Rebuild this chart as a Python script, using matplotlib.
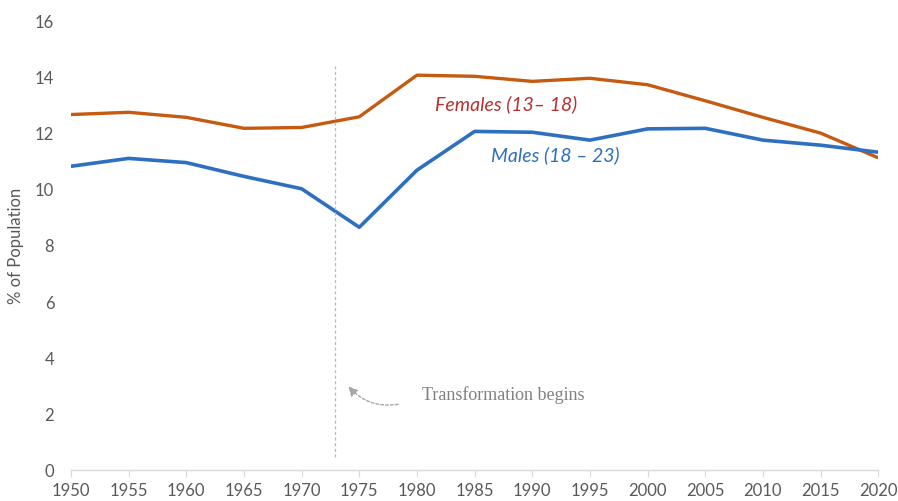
import numpy as np
import matplotlib.pyplot as plt

# population share by year
years = [1950, 1955, 1960, 1965, 1970, 1975, 1980, 1985, 1990, 1995, 2000, 2005, 2010, 2015, 2020]
females = [12.64, 12.72, 12.54, 12.15, 12.18, 12.56, 14.04, 14.0, 13.82, 13.93, 13.7, 13.13, 12.54, 11.98, 11.1]
males = [10.8, 11.08, 10.93, 10.44, 10.0, 8.63, 10.66, 12.04, 12.01, 11.73, 12.13, 12.15, 11.73, 11.55, 11.3]
y_ticks = [0, 2, 4, 6, 8, 10, 12, 14, 16]
transform_year = 1972.9

plt.rcParams['font.family'] = ['Lato', 'DejaVu Sans']
tick_col = '#595959'

fig = plt.figure(figsize=(8.98, 5.02), dpi=100)
ax = fig.add_axes([0.079, 0.062, 0.899, 0.896])

ax.plot(years, females, color='#C55A11', lw=2.4, solid_capstyle='butt')
ax.plot(years, males, color='#2E6FC0', lw=2.6, solid_capstyle='butt')

# marker for when the shift starts
ax.plot([transform_year, transform_year], [0.45, 14.35], color='#A3BAF0',
        lw=0.9, ls=(0, (2.5, 2)))

ax.text(1987.7, 13.05, 'Females (13\u2013 18)', color='#B8312F', style='italic',
        fontsize=14, ha='center', va='center')
ax.text(1992.0, 11.22, 'Males (18 \u2013 23)', color='#2E6FC0', style='italic',
        fontsize=14, ha='center', va='center')

ax.text(1980.4, 2.69, 'Transformation begins', color='#808080',
        family=['Liberation Serif', 'DejaVu Serif'], fontsize=13,
        ha='left', va='center')
ax.annotate('', xy=(1973.9, 3.05), xytext=(1978.6, 2.35),
            arrowprops=dict(arrowstyle='-|>', color='#A6A6A6', lw=1.0,
                            ls=(0, (2, 1.5)), connectionstyle='arc3,rad=-0.3',
                            mutation_scale=14))

ax.set_xlim(1950, 2020)
ax.set_ylim(0, 16)
ax.set_xticks(years)
ax.set_yticks(y_ticks)
ax.set_ylabel('% of Population', color=tick_col, fontsize=12, labelpad=8)

for side in ['top', 'right', 'left']:
    ax.spines[side].set_visible(False)
ax.spines['bottom'].set_color('#D9D9D9')
ax.spines['bottom'].set_linewidth(1.0)
ax.tick_params(axis='x', colors='#D9D9D9', labelcolor=tick_col, labelsize=12,
               length=5, direction='out', pad=4)
ax.tick_params(axis='y', length=0, labelcolor=tick_col, labelsize=12, pad=12)

fig.savefig('out.png', dpi=100, facecolor='white')
